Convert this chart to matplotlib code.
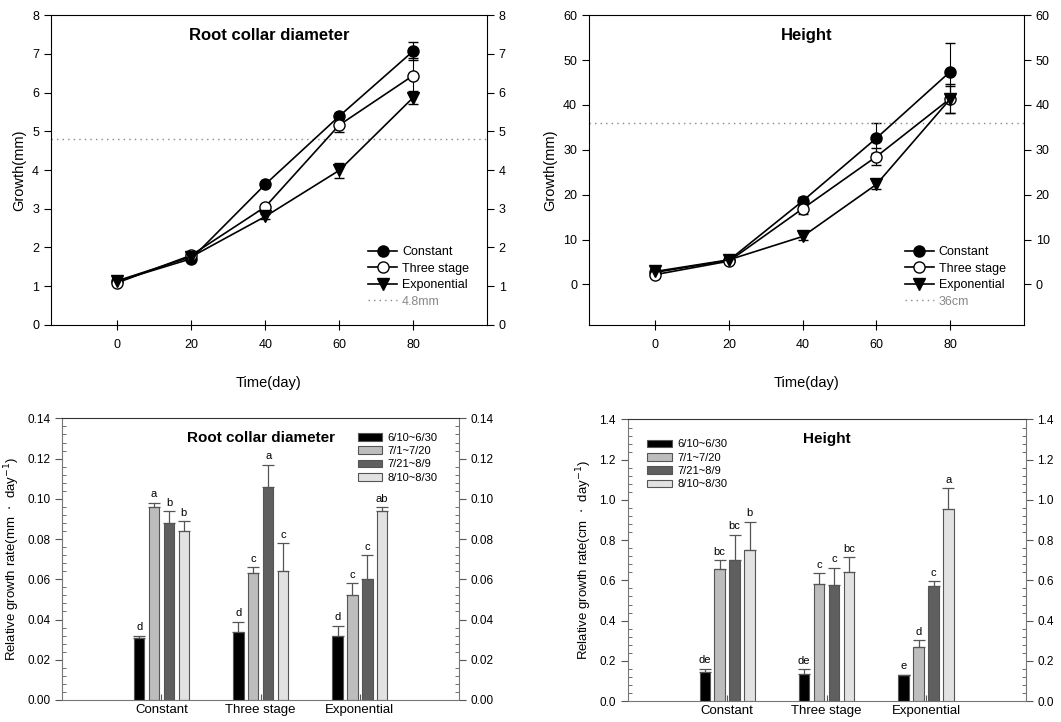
import numpy as np
import matplotlib.pyplot as plt
from matplotlib.ticker import MultipleLocator
from matplotlib.lines import Line2D

plt.rcParams['font.family'] = ['Liberation Sans', 'DejaVu Sans']

# ---- top panels: cumulative growth ----
days = [0, 20, 40, 60, 80]
series_names = ['Constant', 'Three stage', 'Exponential']

rcd_mean = {
    'Constant':    [1.13, 1.71, 3.63, 5.39, 7.07],
    'Three stage': [1.09, 1.80, 3.05, 5.16, 6.44],
    'Exponential': [1.14, 1.76, 2.80, 3.99, 5.87],
}
rcd_err = {
    'Constant':    [0.03, 0.04, 0.06, 0.08, 0.23],
    'Three stage': [0.03, 0.04, 0.08, 0.18, 0.45],
    'Exponential': [0.03, 0.04, 0.06, 0.20, 0.17],
}
height_mean = {
    'Constant':    [2.7, 5.4, 18.6, 32.6, 47.4],
    'Three stage': [2.2, 5.2, 16.9, 28.5, 41.4],
    'Exponential': [2.9, 5.5, 10.7, 22.3, 41.3],
}
height_err = {
    'Constant':    [0.3, 0.4, 0.8, 3.4, 6.3],
    'Three stage': [0.3, 0.4, 1.2, 1.8, 3.3],
    'Exponential': [0.3, 0.4, 0.7, 1.1, 3.0],
}
rcd_ref, height_ref = 4.8, 36

# ---- bottom panels: relative growth rate ----
treatments = ['Constant', 'Three stage', 'Exponential']
periods = ['6/10~6/30', '7/1~7/20', '7/21~8/9', '8/10~8/30']

rgr_rcd = [[0.031, 0.096, 0.088, 0.084],
           [0.034, 0.063, 0.106, 0.064],
           [0.032, 0.052, 0.060, 0.094]]
rgr_rcd_err = [[0.001, 0.002, 0.006, 0.005],
               [0.005, 0.003, 0.011, 0.014],
               [0.005, 0.006, 0.012, 0.002]]
rgr_rcd_sig = [['d', 'a', 'b', 'b'],
               ['d', 'c', 'a', 'c'],
               ['d', 'c', 'c', 'ab']]

rgr_h = [[0.146, 0.659, 0.701, 0.749],
         [0.136, 0.580, 0.577, 0.644],
         [0.128, 0.267, 0.573, 0.953]]
rgr_h_err = [[0.015, 0.042, 0.127, 0.142],
             [0.021, 0.056, 0.087, 0.070],
             [0.004, 0.035, 0.023, 0.106]]
rgr_h_sig = [['de', 'bc', 'bc', 'b'],
             ['de', 'c', 'c', 'bc'],
             ['e', 'd', 'c', 'a']]

bar_colors = ['#000000', '#bdbdbd', '#5f5f5f', '#e2e2e2']
markers = {'Constant': dict(marker='o', mfc='black', ms=8),
           'Three stage': dict(marker='o', mfc='white', ms=8),
           'Exponential': dict(marker='v', mfc='black', ms=8.5)}

fig = plt.figure(figsize=(10.61, 7.22), dpi=100)


def line_panel(rect, means, errs, ylim, yticks, title, ref, ref_label):
    ax = fig.add_axes(rect)
    handles = []
    for name in series_names:
        ax.errorbar(days, means[name], yerr=errs[name], color='black', lw=1.2,
                    mec='black', mew=1, capsize=3.5, elinewidth=0.8,
                    **markers[name])
        handles.append(Line2D([], [], color='black', lw=1.2, mec='black',
                              mew=1, label=name, **markers[name]))
    ax.axhline(ref, color='#888888', ls=(0, (1, 3)), lw=1)
    handles.append(Line2D([], [], color='#888888', ls=(0, (1, 3)), lw=1,
                          label=ref_label))
    ax.set_xlim(-18, 100)
    ax.set_ylim(*ylim)
    ax.set_xticks(days)
    ax.set_yticks(yticks)
    ax.tick_params(axis='x', direction='inout', length=7, labelsize=9, pad=7)
    ax.tick_params(axis='y', direction='out', length=5, labelsize=9,
                   right=True, labelright=True)
    ax.set_xlabel('Time(day)', fontsize=10.5, labelpad=18)
    ax.set_ylabel('Growth(mm)', fontsize=10.5, labelpad=4)
    ax.text(0.5, 0.935, title, transform=ax.transAxes, ha='center', va='center',
            fontsize=12, fontweight='bold')
    leg = ax.legend(handles=handles, loc='lower right',
                    bbox_to_anchor=(0.97, 0.04), frameon=False,
                    fontsize=9, handlelength=2.3, handletextpad=0.4,
                    labelspacing=0.35, borderaxespad=0)
    leg.get_texts()[-1].set_color('#888888')
    return ax


line_panel([0.048, 0.55, 0.411, 0.429], rcd_mean, rcd_err, (0, 8), range(0, 9),
           'Root collar diameter', rcd_ref, '4.8mm')
line_panel([0.555, 0.55, 0.41, 0.429], height_mean, height_err, (-9, 60),
           range(0, 61, 10), 'Height', height_ref, '36cm')


def bar_panel(rect, vals, errs, sig, ymax, major, minor, fmt, ylabel, title,
              leg_anchor):
    ax = fig.add_axes(rect)
    x = np.arange(1, len(treatments) + 1)
    width = 0.105
    offsets = [-0.225, -0.075, 0.075, 0.225]
    vals = np.array(vals)
    errs = np.array(errs)
    for j, per in enumerate(periods):
        xs = x + offsets[j]
        ax.bar(xs, vals[:, j], width, color=bar_colors[j], edgecolor='#555555',
               lw=0.8, label=per, zorder=2)
        ax.errorbar(xs, vals[:, j], yerr=[np.zeros(len(x)), errs[:, j]],
                    fmt='none', ecolor='#555555', elinewidth=0.9, capsize=4,
                    capthick=0.9, zorder=3)
        for i in range(len(x)):
            ax.text(xs[i], vals[i, j] + errs[i, j] + ymax * 0.012, sig[i][j],
                    ha='center', va='bottom', fontsize=8)
    ax.set_xlim(0, 4)
    ax.set_ylim(0, ymax)
    ax.set_xticks(x)
    ax.set_xticklabels(treatments, fontsize=9.5)
    ax.yaxis.set_major_locator(MultipleLocator(major))
    ax.yaxis.set_minor_locator(MultipleLocator(minor))
    ax.yaxis.set_major_formatter(fmt)
    ax.tick_params(axis='y', which='major', direction='out', length=5,
                   labelsize=8.5, right=True, labelright=True, color='#555555')
    ax.tick_params(axis='y', which='minor', direction='in', length=3,
                   right=True, color='#555555')
    ax.tick_params(axis='x', direction='in', length=4, pad=3, color='#555555')
    for s in ['bottom', 'right', 'left']:
        ax.spines[s].set_color('#777777')
    ax.spines['top'].set_color('#333333')
    ax.set_ylabel(ylabel, fontsize=9.5)
    ax.text(0.5, 0.93, title, transform=ax.transAxes, ha='center',
            va='center', fontsize=11, fontweight='bold')
    ax.legend(loc='upper left', bbox_to_anchor=leg_anchor, frameon=False,
              fontsize=8, handlelength=2.2, handleheight=0.7, handletextpad=0.5,
              labelspacing=0.3, borderaxespad=0)
    return ax


bar_panel([0.0587, 0.0305, 0.374, 0.39], rgr_rcd, rgr_rcd_err, rgr_rcd_sig,
          0.14, 0.02, 0.004, '{x:.2f}',
          r'Relative growth rate(mm  $\cdot$  day$^{-1}$)',
          'Root collar diameter', (0.733, 0.965))
bar_panel([0.5916, 0.029, 0.375, 0.39], rgr_h, rgr_h_err, rgr_h_sig,
          1.4, 0.2, 0.04, '{x:.1f}',
          r'Relative growth rate(cm  $\cdot$  day$^{-1}$)',
          'Height', (0.038, 0.945))

fig.savefig('out.png', dpi=100)
